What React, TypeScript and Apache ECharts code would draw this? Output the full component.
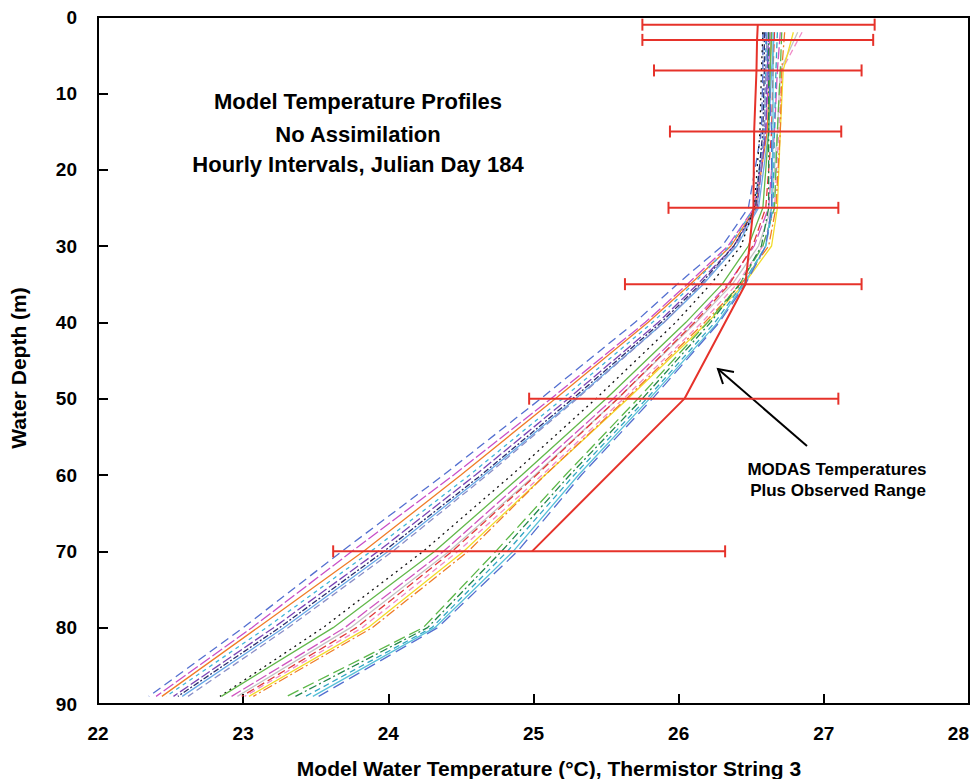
import React, { useEffect, useRef } from "react";
import * as echarts from "echarts";

// Model depth levels (m)
const depthLevels = [2, 7, 15, 25, 30, 35, 40, 50, 60, 70, 80, 89];

// Hourly model temperature profiles (°C) at the depth levels above
const hourA1 = [26.58, 26.58, 26.57, 26.48, 26.30, 25.99, 25.70, 25.05, 24.38, 23.68, 23.00, 22.35];
const hourA2 = [26.63, 26.62, 26.60, 26.52, 26.34, 26.06, 25.77, 25.12, 24.45, 23.75, 23.06, 22.40];
const hourA3 = [26.64, 26.63, 26.61, 26.53, 26.36, 26.08, 25.79, 25.15, 24.50, 23.83, 23.10, 22.44];
const hourA4 = [26.60, 26.60, 26.59, 26.52, 26.35, 26.10, 25.82, 25.20, 24.56, 23.88, 23.16, 22.47];
const hourA5 = [26.62, 26.61, 26.60, 26.54, 26.38, 26.13, 25.86, 25.24, 24.60, 23.93, 23.21, 22.52];
const hourA6 = [26.59, 26.59, 26.58, 26.53, 26.38, 26.15, 25.88, 25.27, 24.64, 23.97, 23.25, 22.55];
const hourA7 = [26.66, 26.64, 26.62, 26.55, 26.40, 26.17, 25.90, 25.29, 24.66, 24.00, 23.28, 22.58];
const hourA8 = [26.61, 26.60, 26.59, 26.54, 26.39, 26.16, 25.90, 25.30, 24.68, 24.03, 23.31, 22.62];

const hourB1 = [26.58, 26.57, 26.56, 26.52, 26.43, 26.22, 25.98, 25.43, 24.85, 24.24, 23.55, 22.84];
const hourB2 = [26.64, 26.63, 26.62, 26.58, 26.48, 26.30, 26.05, 25.50, 24.92, 24.32, 23.62, 22.85];
const hourB3 = [26.70, 26.68, 26.66, 26.62, 26.52, 26.34, 26.09, 25.55, 24.97, 24.38, 23.70, 22.92];
const hourB4 = [26.82, 26.70, 26.68, 26.64, 26.55, 26.37, 26.12, 25.58, 25.01, 24.42, 23.74, 22.96];
const hourB5 = [26.66, 26.65, 26.64, 26.60, 26.51, 26.35, 26.11, 25.58, 25.02, 24.44, 23.78, 22.99];
const hourB6 = [26.85, 26.71, 26.69, 26.66, 26.58, 26.40, 26.16, 25.62, 25.06, 24.48, 23.82, 23.01];
const hourB7 = [26.79, 26.72, 26.70, 26.68, 26.64, 26.45, 26.20, 25.65, 25.08, 24.52, 23.86, 23.04];
const hourB8 = [26.73, 26.71, 26.70, 26.67, 26.62, 26.43, 26.18, 25.64, 25.08, 24.55, 23.89, 23.07];

const hourC1 = [26.71, 26.70, 26.68, 26.66, 26.58, 26.42, 26.20, 25.72, 25.22, 24.74, 24.24, 23.30];
const hourC2 = [26.62, 26.62, 26.62, 26.62, 26.57, 26.42, 26.22, 25.75, 25.25, 24.78, 24.27, 23.36];
const hourC3 = [26.68, 26.67, 26.66, 26.65, 26.60, 26.44, 26.25, 25.78, 25.28, 24.82, 24.30, 23.43];
const hourC4 = [26.65, 26.65, 26.65, 26.64, 26.60, 26.45, 26.27, 25.80, 25.31, 24.86, 24.32, 23.48];
const hourC5 = [26.60, 26.62, 26.64, 26.64, 26.60, 26.46, 26.28, 25.82, 25.33, 24.89, 24.34, 23.52];

const profiles = [
  hourA1, hourA2, hourA3, hourA4, hourA5, hourA6, hourA7, hourA8,
  hourB1, hourB2, hourB3, hourB4, hourB5, hourB6, hourB7, hourB8,
  hourC1, hourC2, hourC3, hourC4, hourC5,
];

// MODAS temperatures and observed range
const modasDepth = [1, 3, 7, 15, 25, 35, 50, 70];
const modasTemp = [26.545, 26.54, 26.536, 26.52, 26.515, 26.46, 26.04, 24.99];
const obsLow = [25.75, 25.75, 25.83, 25.94, 25.93, 25.63, 24.97, 23.62];
const obsHigh = [27.35, 27.34, 27.26, 27.12, 27.10, 27.26, 27.10, 26.32];

const FONT = '"Liberation Sans", Arial, sans-serif';
const RED = "#e6322a";

const profileStyles: { color: string; type: any }[] = [
  { color: "#5470d0", type: [9, 5] },
  { color: "#c84fc8", type: [12, 3] },
  { color: "#f07d28", type: "solid" },
  { color: "#3fb6d9", type: [4, 4] },
  { color: "#7b45b5", type: [10, 3] },
  { color: "#2b2f6e", type: [6, 2, 2, 2] },
  { color: "#67a9e8", type: "solid" },
  { color: "#8a8fc8", type: [7, 4] },
  { color: "#111111", type: [2, 4] },
  { color: "#62b84a", type: "solid" },
  { color: "#d055c0", type: [12, 3] },
  { color: "#c4c4c4", type: "solid" },
  { color: "#e23a3a", type: [8, 4] },
  { color: "#f08cc8", type: [6, 4] },
  { color: "#f2dc2a", type: "solid" },
  { color: "#f07d28", type: [10, 3, 2, 3] },
  { color: "#5cb848", type: [12, 5] },
  { color: "#23864a", type: [8, 3, 2, 3] },
  { color: "#31a6c4", type: [6, 4] },
  { color: "#58c0d8", type: "solid" },
  { color: "#5470d0", type: [12, 6] },
];

export default function App() {
  const ref = useRef<HTMLDivElement>(null);
  useEffect(() => {
    document.body.style.margin = "0";
    const chart = echarts.init(ref.current!, null, { renderer: "svg" });

    const profileSeries = profiles.map((p, i) => ({
      type: "line",
      data: p.map((t, j) => [t, depthLevels[j]]),
      showSymbol: false,
      symbol: "none",
      silent: true,
      z: 2,
      lineStyle: { color: profileStyles[i].color, width: 1.3, type: profileStyles[i].type },
    }));

    const option: any = {
      animation: false,
      grid: {
        left: 98, right: 3, top: 17, bottom: 75,
        containLabel: false, outerBoundsMode: "none",
        show: true, borderColor: "#000", borderWidth: 2,
      },
      xAxis: {
        type: "value",
        min: 22,
        max: 28,
        interval: 1,
        axisLine: { onZero: false, lineStyle: { color: "#000", width: 2 } },
        axisTick: { inside: true, length: 10, lineStyle: { color: "#000", width: 2 } },
        axisLabel: { fontFamily: FONT, fontWeight: "bold", fontSize: 19, color: "#000", margin: 20, alignMaxLabel: "right" },
        splitLine: { show: false },
      },
      yAxis: {
        type: "value",
        inverse: true,
        min: 0,
        max: 90,
        interval: 10,
        axisLine: { onZero: false, lineStyle: { color: "#000", width: 2 } },
        axisTick: { inside: true, length: 10, lineStyle: { color: "#000", width: 2 } },
        axisLabel: { fontFamily: FONT, fontWeight: "bold", fontSize: 19, color: "#000", margin: 21 },
        splitLine: { show: false },
      },
      series: [
        ...profileSeries,
        {
          type: "line",
          data: modasTemp.map((t, i) => [t, modasDepth[i]]),
          showSymbol: false,
          symbol: "none",
          z: 5,
          lineStyle: { color: RED, width: 2 },
        },
        {
          type: "custom",
          z: 6,
          data: obsLow.map((lo, i) => [lo, obsHigh[i], modasDepth[i]]),
          encode: { x: [0, 1], y: 2 },
          renderItem: (params: any, api: any) => {
            const d = api.value(2);
            const a = api.coord([api.value(0), d]);
            const b = api.coord([api.value(1), d]);
            const h = 6;
            const st = { stroke: RED, lineWidth: 2 };
            return {
              type: "group",
              children: [
                { type: "line", shape: { x1: a[0], y1: a[1], x2: b[0], y2: b[1] }, style: st },
                { type: "line", shape: { x1: a[0], y1: a[1] - h, x2: a[0], y2: a[1] + h }, style: st },
                { type: "line", shape: { x1: b[0], y1: b[1] - h, x2: b[0], y2: b[1] + h }, style: st },
              ],
            };
          },
        },
      ],
      graphic: [
        { type: "text", x: 358, y: 101, style: { text: "Model Temperature Profiles", fontFamily: FONT, fontWeight: "bold", fontSize: 22, fill: "#000", align: "center", verticalAlign: "middle" } },
        { type: "text", x: 358, y: 134, style: { text: "No Assimilation", fontFamily: FONT, fontWeight: "bold", fontSize: 22, fill: "#000", align: "center", verticalAlign: "middle" } },
        { type: "text", x: 358, y: 164, style: { text: "Hourly Intervals, Julian Day 184", fontFamily: FONT, fontWeight: "bold", fontSize: 22, fill: "#000", align: "center", verticalAlign: "middle" } },
        { type: "text", x: 837, y: 469, style: { text: "MODAS Temperatures", fontFamily: FONT, fontWeight: "bold", fontSize: 17, fill: "#000", align: "center", verticalAlign: "middle" } },
        { type: "text", x: 838, y: 490, style: { text: "Plus Observed Range", fontFamily: FONT, fontWeight: "bold", fontSize: 17, fill: "#000", align: "center", verticalAlign: "middle" } },
        { type: "text", x: 549, y: 768, style: { text: "Model Water Temperature (°C), Thermistor String 3", fontFamily: FONT, fontWeight: "bold", fontSize: 21, fill: "#000", align: "center", verticalAlign: "middle" } },
        { type: "text", x: 18, y: 368, rotation: Math.PI / 2, style: { text: "Water Depth (m)", fontFamily: FONT, fontWeight: "bold", fontSize: 21, fill: "#000", align: "center", verticalAlign: "middle" } },
        { type: "line", shape: { x1: 807, y1: 446, x2: 718, y2: 369 }, style: { stroke: "#000", lineWidth: 2 } },
        { type: "polyline", shape: { points: [[734, 372], [718, 369], [723, 384]] }, style: { stroke: "#000", lineWidth: 2, fill: null } },
      ],
    };
    chart.setOption(option);
    return () => chart.dispose();
  }, []);
  return <div ref={ref} style={{ width: 972, height: 779 }} />;
}
